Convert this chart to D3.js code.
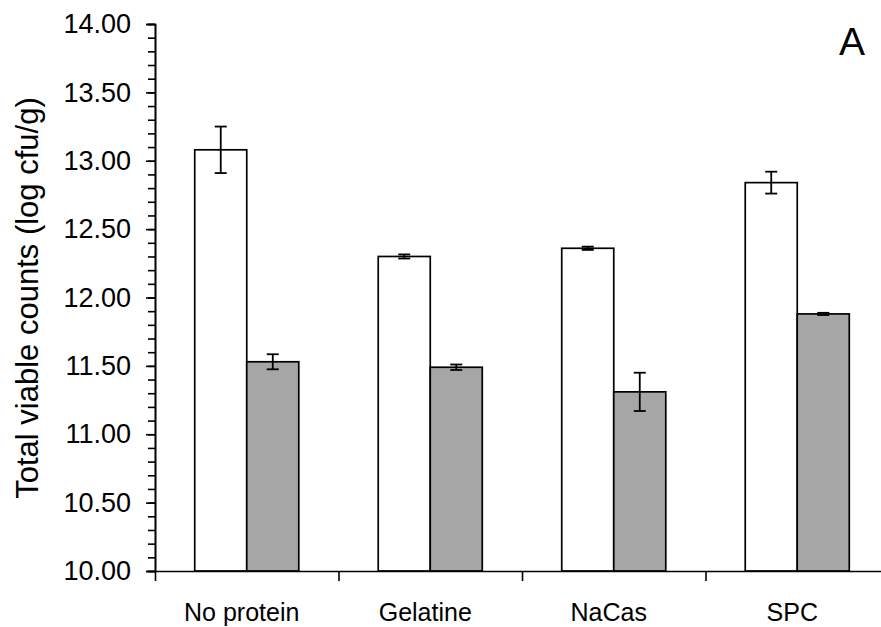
<!DOCTYPE html>
<html>
<head>
<meta charset="utf-8">
<script src="https://cdn.jsdelivr.net/npm/d3@7"></script>
<style>
  body { margin: 0; background: #fff; }
  text { font-family: "Liberation Sans", Arial, sans-serif; fill: #000; }
</style>
</head>
<body>
<div id="chart"></div>
<script>
// data
var categories = ["No protein", "Gelatine", "NaCas", "SPC"];
var seriesNames = ["white", "grey"];
var whiteVals = [13.08, 12.30, 12.36, 12.84];
var whiteErr  = [0.17, 0.015, 0.012, 0.08];
var greyVals  = [11.53, 11.49, 11.31, 11.88];
var greyErr   = [0.055, 0.02, 0.14, 0.008];
var yTicks = [10, 10.5, 11, 11.5, 12, 12.5, 13, 13.5, 14];

var w = 881, h = 627;
var mLeft = 155, mTop = 24, mBottom = 571;
var step = 183.5;

var svg = d3.select("#chart").append("svg")
  .attr("width", w).attr("height", h);

var x = d3.scaleBand()
  .domain(categories)
  .range([mLeft, mLeft + step * categories.length])
  .paddingInner(0.433)
  .paddingOuter(0.433 / 2);

var xs = d3.scaleBand().domain(seriesNames).range([0, x.bandwidth()]);

var y = d3.scaleLinear().domain([10, 14]).range([mBottom, mTop]);

var rows = categories.map(function(c, i) {
  return [
    {cat: c, s: "white", v: whiteVals[i], e: whiteErr[i]},
    {cat: c, s: "grey", v: greyVals[i], e: greyErr[i]}
  ];
});
var flat = [].concat.apply([], rows);

// bars
svg.selectAll("rect.bar")
  .data(flat)
  .enter().append("rect")
  .attr("class", "bar")
  .attr("x", function(d) { return x(d.cat) + xs(d.s); })
  .attr("y", function(d) { return y(d.v); })
  .attr("width", xs.bandwidth())
  .attr("height", function(d) { return y(10) - y(d.v); })
  .attr("fill", function(d) { return d.s == "white" ? "#ffffff" : "#a6a6a6"; })
  .attr("stroke", "#000")
  .attr("stroke-width", 1.7);

// error bars
var eb = svg.selectAll("g.err").data(flat).enter().append("g")
  .attr("transform", function(d) { return "translate(" + (x(d.cat) + xs(d.s) + xs.bandwidth() / 2) + ",0)"; })
  .attr("stroke", "#000").attr("stroke-width", 1.8);
eb.append("line")
  .attr("y1", function(d) { return y(d.v + d.e); })
  .attr("y2", function(d) { return y(d.v - d.e); });
eb.append("line").attr("x1", -6).attr("x2", 6)
  .attr("y1", function(d) { return y(d.v + d.e); })
  .attr("y2", function(d) { return y(d.v + d.e); });
eb.append("line").attr("x1", -6).attr("x2", 6)
  .attr("y1", function(d) { return y(d.v - d.e); })
  .attr("y2", function(d) { return y(d.v - d.e); });

// y axis: minor ticks every 0.1, labels every 0.5
var yMinor = d3.axisLeft(y).tickValues(d3.range(100, 141).map(function(k) { return k / 10; }))
  .tickSize(7).tickFormat("");
svg.append("g").attr("transform", "translate(" + mLeft + ",0)").call(yMinor)
  .call(function(g) { g.selectAll("line, path").attr("stroke", "#000").attr("stroke-width", 1.6); });

var yAxis = d3.axisLeft(y).tickValues(yTicks).tickSize(9).tickPadding(15)
  .tickFormat(d3.format(".2f"));
svg.append("g").attr("transform", "translate(" + mLeft + ",0)").call(yAxis)
  .call(function(g) {
    g.select(".domain").attr("stroke", "#000").attr("stroke-width", 1.6);
    g.selectAll("line").attr("stroke", "#000").attr("stroke-width", 1.6);
    g.selectAll("text").attr("font-size", 27).attr("font-family", null);
  });

// x axis with ticks between groups
var xLin = d3.scaleLinear().domain([0, categories.length]).range([mLeft, mLeft + step * categories.length]);
svg.append("g").attr("transform", "translate(0," + mBottom + ")")
  .call(d3.axisBottom(xLin).tickValues(d3.range(0, categories.length + 1)).tickSize(10).tickSizeOuter(0).tickFormat(""))
  .call(function(g) { g.selectAll("line, path").attr("stroke", "#000").attr("stroke-width", 1.6); });

svg.selectAll("text.cat").data(categories).enter().append("text")
  .attr("class", "cat")
  .attr("x", function(d) { return x(d) + x.bandwidth() / 2 - 5; })
  .attr("y", 621)
  .attr("text-anchor", "middle")
  .attr("font-size", 25)
  .text(function(d) { return d; });

svg.append("text")
  .attr("transform", "translate(38,298) rotate(-90)")
  .attr("text-anchor", "middle")
  .attr("font-size", 31)
  .text("Total viable counts (log cfu/g)");

svg.append("text")
  .attr("x", 852).attr("y", 55)
  .attr("text-anchor", "middle")
  .attr("font-size", 39)
  .text("A");
</script>
</body>
</html>
